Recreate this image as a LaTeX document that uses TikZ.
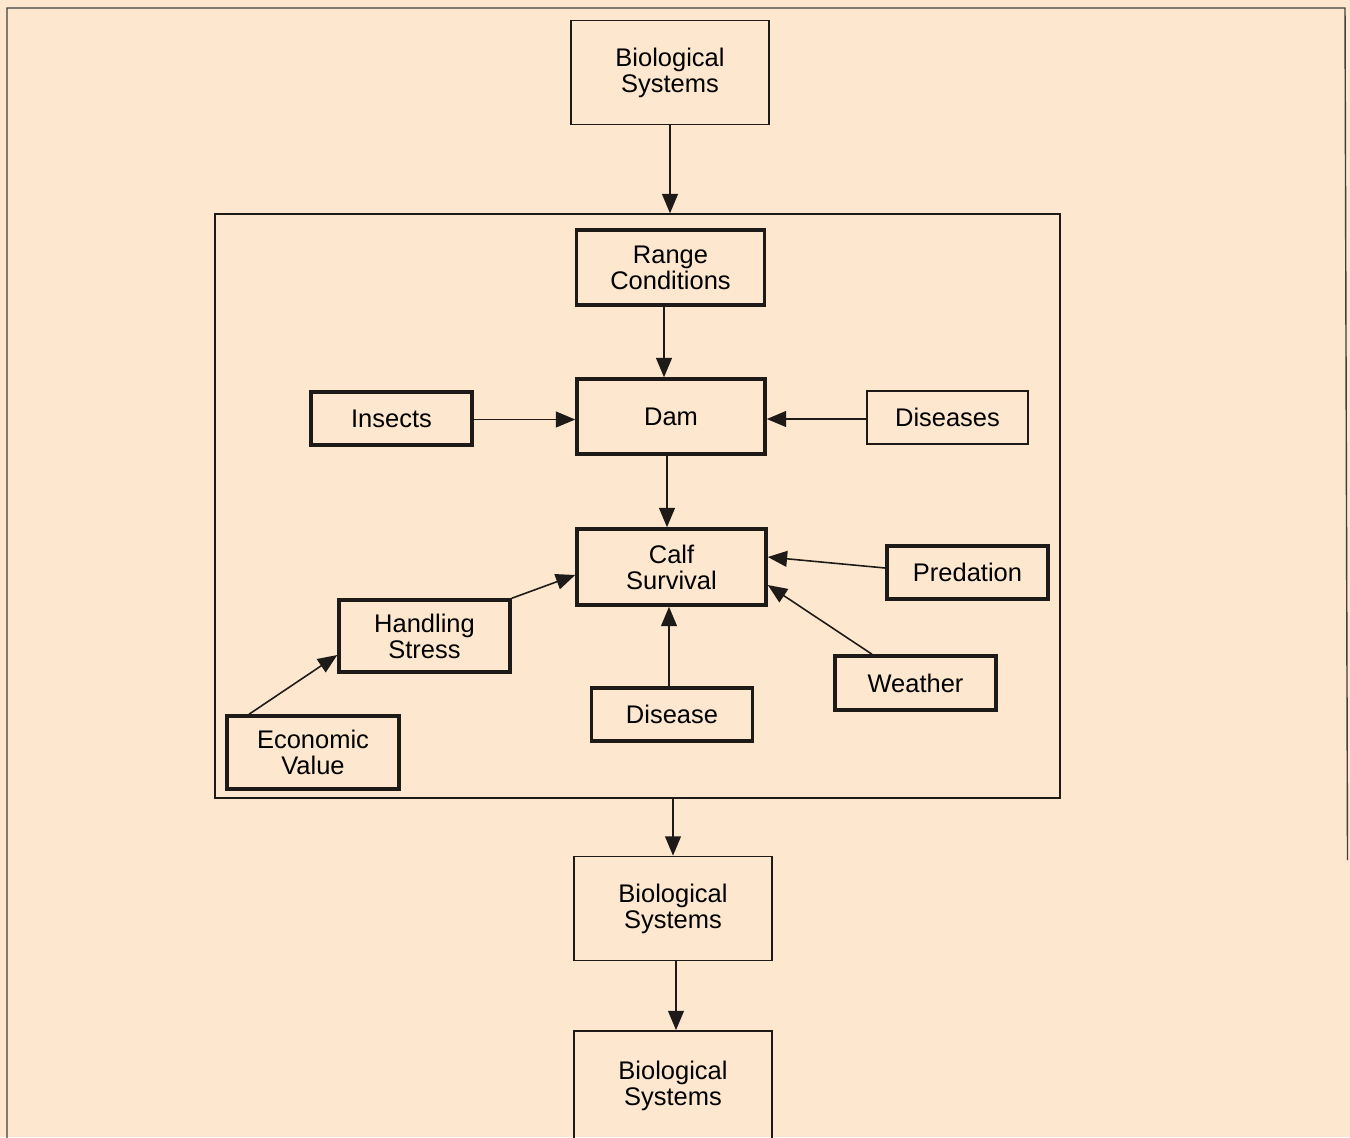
\documentclass[tikz,border=0pt]{standalone}
\usepackage{fontspec}
\setmainfont{Liberation Sans}
\usepackage{tikz}
\usetikzlibrary{positioning, arrows.meta, calc}
\definecolor{peach}{RGB}{253,231,206}
\definecolor{inkline}{RGB}{30,26,24}

\begin{document}
\begin{tikzpicture}[
    every node/.style={font=\fontsize{14.5}{14.8}\selectfont, align=center, inner sep=0pt},
    box/.style={draw=inkline, line width=2pt, minimum width=3.22cm, minimum height=1.06cm},
    bigbox/.style={box, minimum width=3.76cm, minimum height=1.5cm},
    sysbox/.style={draw=inkline, line width=1pt, minimum width=3.96cm, minimum height=2.08cm},
    arrow/.style={-{Triangle[length=11pt, width=9pt]}, line width=0.9pt, inkline},
]

% ── Page and frames ──
\useasboundingbox (0,0) rectangle (27,-22.74);
\fill[peach] (0,0) rectangle (27,-22.74);
\clip (0,0) rectangle (27,-22.74);
\draw[line width=0.8pt, black!75] (0.14,-23) -- (0.14,-0.16) -- (26.9,-0.16) -- (26.95,-17.2);

\node[draw=inkline, line width=0.8pt, minimum width=16.9cm, minimum height=11.68cm]
    (frame) at (12.75,-10.12) {};

% ── Main column ──
\node[sysbox] (bioA) at (13.4,-1.45) {Biological\\Systems};
\node[bigbox] (range) at (13.41,-5.35) {Range\\Conditions};
\node[bigbox] (dam) at (13.42,-8.33) {Dam};
\node[bigbox, minimum width=3.78cm, minimum height=1.52cm] (calf) at (13.43,-11.34) {Calf\\Survival};
\node[box] (disease) at (13.44,-14.29) {Disease};
\node[sysbox] (bioB) at (13.46,-18.17) {Biological\\Systems};
\node[sysbox, minimum height=2.2cm] (bioC) at (13.46,-21.72) {Biological\\Systems};

% ── Side factors ──
\node[box] (insects) at (7.83,-8.37) {Insects};
\node[box, line width=1.4pt] (diseases) at (18.95,-8.35) {Diseases};
\node[box] (predation) at (19.35,-11.45) {Predation};
\node[box, minimum height=1.08cm] (weather) at (18.31,-13.66) {Weather};
\node[box, minimum width=3.42cm, minimum height=1.44cm] (handling) at (8.49,-12.72) {Handling\\Stress};
\node[box, minimum width=3.44cm, minimum height=1.46cm] (economic) at (6.26,-15.05) {Economic\\Value};

% ── Arrows ──
\draw[arrow] (bioA.south) -- (bioA.south |- frame.north);
\draw[arrow] ([xshift=-0.13cm]range.south) -- ([xshift=-0.13cm]range.south |- dam.north);
\draw[arrow] ([yshift=-0.02cm]insects.east) -- ([yshift=-0.02cm]insects.east -| dam.west);
\draw[arrow] ([yshift=-0.03cm]diseases.west) -- ([yshift=-0.03cm]diseases.west -| dam.east);
\draw[arrow] ([xshift=-0.08cm]dam.south) -- ([xshift=-0.08cm]dam.south |- calf.north);
\draw[arrow] ([yshift=0.09cm]predation.west) -- ([yshift=0.2cm]calf.east);
\draw[arrow] ([xshift=-0.87cm]weather.north) -- ([yshift=-0.36cm]calf.east);
\draw[arrow] ([xshift=-0.06cm]disease.north) -- ([xshift=-0.06cm]disease.north |- calf.south);
\draw[arrow] (handling.north east) -- ([yshift=-0.16cm]calf.west);
\draw[arrow] ([xshift=-1.28cm]economic.north) -- ([yshift=-0.38cm]handling.west);
\draw[arrow] (frame.south -| bioB.north) -- (bioB.north);
\draw[arrow] ([xshift=0.06cm]bioB.south) -- ([xshift=0.06cm]bioB.south |- bioC.north);

\end{tikzpicture}
\end{document}
